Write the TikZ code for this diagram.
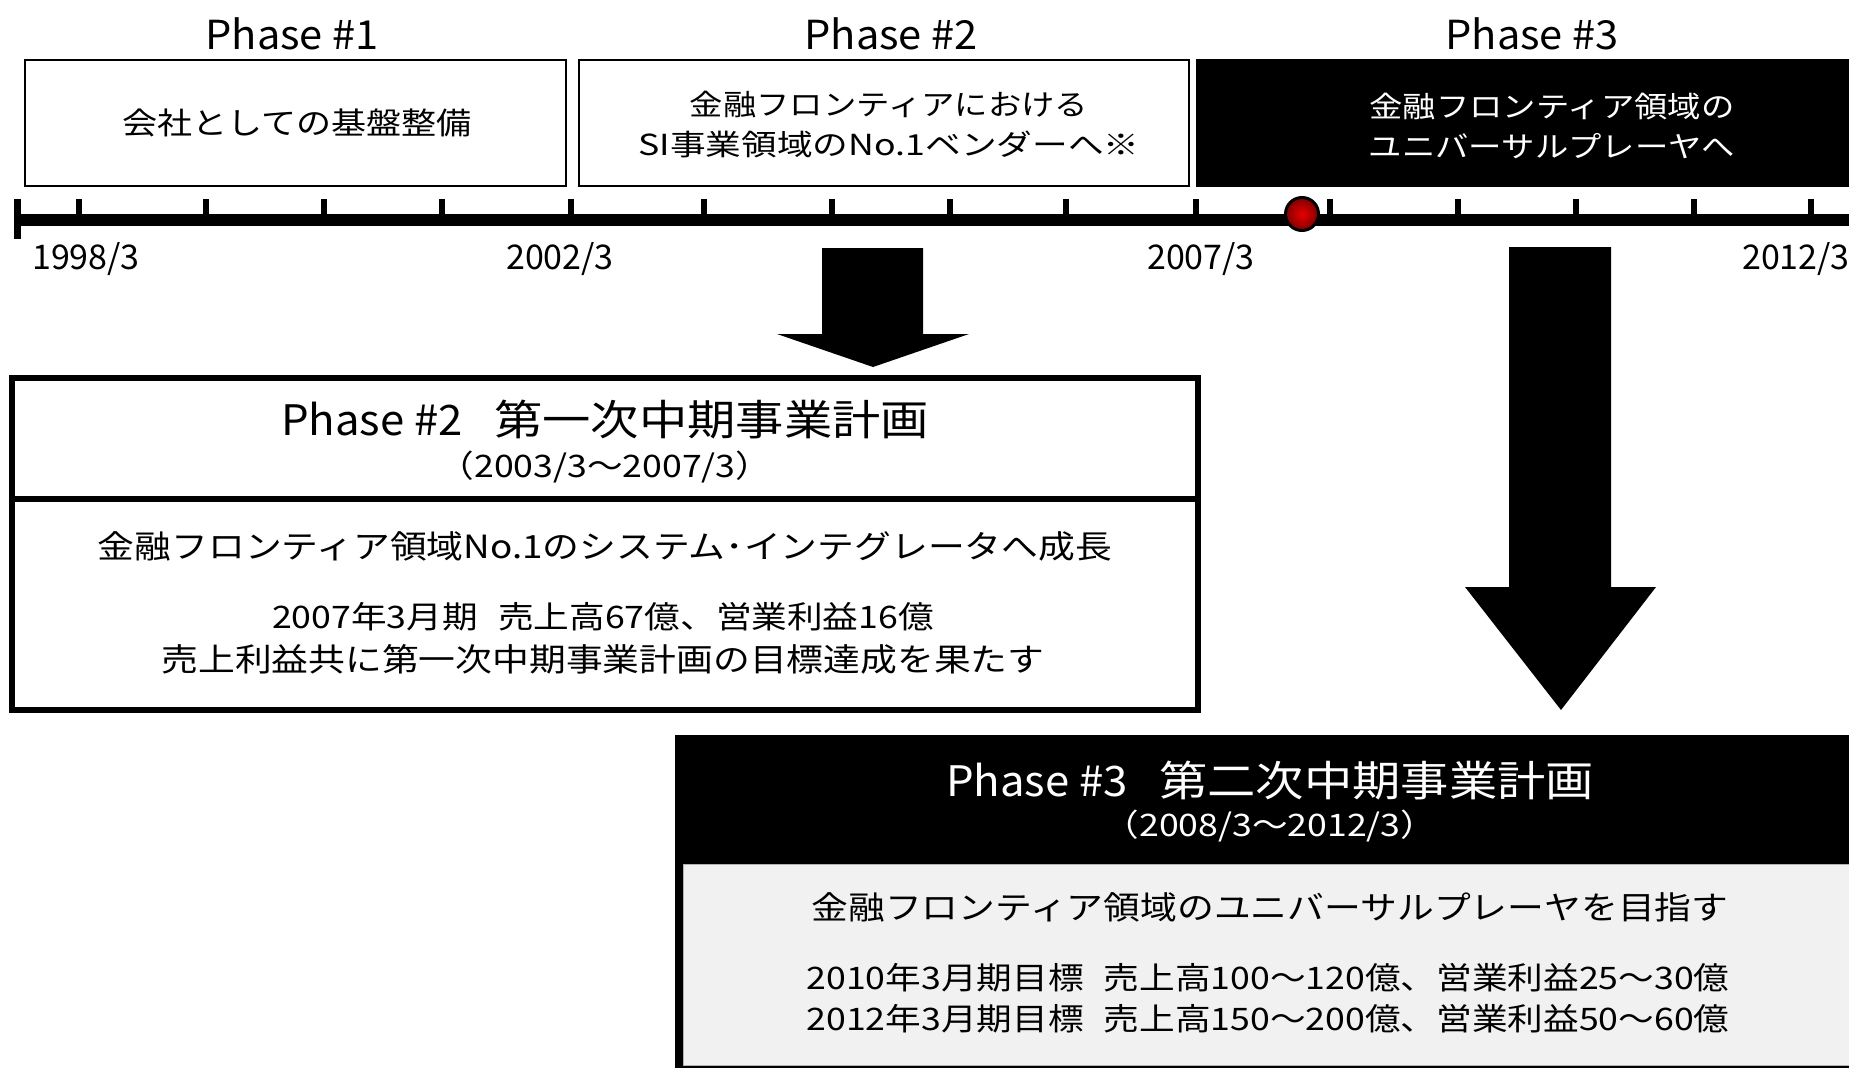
\documentclass[tikz,border=0pt]{standalone}
\usepackage{fontspec}
\newfontfamily\jp{Noto Sans CJK JP}[FakeStretch=1.15]
\newfontfamily\jpl{Noto Sans CJK JP}[FakeStretch=1.04]
\newfontfamily\jpn{Noto Sans CJK JP}
\newcommand\fsz[2]{\fontsize{#1}{#2}\selectfont}
\begin{document}
\begin{tikzpicture}[x=1pt,y=-1pt,
  phaselbl/.style={font=\jpl\fsz{40}{48}, inner sep=0pt},
  datelbl/.style={font=\jpn\fsz{34}{40}, inner sep=0pt},
  topbox/.style={draw=black, line width=2pt, fill=white, inner sep=0pt},
  boxtxt/.style={font=\jp\fsz{29}{40}, align=center, inner sep=0pt},
  bigtitle/.style={font=\jp\fsz{42}{50}, inner sep=0pt},
  subtitle/.style={font=\jp\fsz{31}{36}, inner sep=0pt},
  bodytxt/.style={font=\jp\fsz{32}{38}, inner sep=0pt},
  numtxt/.style={font=\jp\fsz{31}{38}, inner sep=0pt},
  tickmark/.style={fill=black},
  blockarrow/.style={fill=black},
]
\useasboundingbox (0,0) rectangle (1849,1068);
\fill[white] (0,0) rectangle (1849,1068);

% phase labels
\node[phaselbl] (p1) at (292,34) {Phase \#1};
\node[phaselbl] (p2) at (891,34) {Phase \#2};
\node[phaselbl] (p3) at (1532,34) {Phase \#3};

% top boxes
\node[topbox, minimum width=541pt, minimum height=126pt] (b1) at (295,122.5) {};
\node[boxtxt, font=\jp\fsz{30.5}{40}] (b1t) at (297,123) {会社としての基盤整備};
\node[topbox, minimum width=610pt, minimum height=126pt] (b2) at (883.5,122.5) {};
\node[boxtxt] (b2t) at (889,125) {金融フロンティアにおける\\\scalebox{1.07}[1]{SI事業領域のNo.1ベンダーへ※}};
\fill[black] (1196,59) rectangle (1849,187);
\node[boxtxt, text=white] (b3t) at (1552,126) {金融フロンティア領域の\\ユニバーサルプレーヤへ};

% timeline
\draw[line width=12pt] (14,220) -- (1849,220);
\fill (14,199) rectangle (21,239);
\foreach \x in {79,206,324,442,571,704,832,950,1066,1196,1330,1458,1576,1694,1811}
  \fill[tickmark] (\x-3,199) rectangle (\x+3,216);
\node[circle, draw=black, line width=3pt, minimum size=33pt, inner sep=0pt,
      inner color=red!90!black, outer color=red!50!black] (ball) at (1302,214) {};

% date labels
\node[datelbl] (d1) at (86,259) {1998/3};
\node[datelbl] (d2) at (560,259) {2002/3};
\node[datelbl] (d3) at (1201,259) {2007/3};
\node[datelbl, anchor=east] (d4) at (1850,259) {2012/3};

% block arrows
\fill[blockarrow] (822,248) -- (923,248) -- (923,334) -- (969,334) -- (873,367) -- (777,334) -- (822,334) -- cycle;
\fill[blockarrow] (1509,247) -- (1611,247) -- (1611,587) -- (1656,587) -- (1561,710) -- (1465,587) -- (1509,587) -- cycle;

% Phase 2 plan box
\draw[line width=6pt] (12,378) rectangle (1198,710);
\draw[line width=6pt] (12,499) -- (1198,499);
\node[bigtitle] (t2) at (605,420) {{\jpl Phase \#2}\hspace{0.75em}第一次中期事業計画};
\node[subtitle] (s2) at (605,467) {（2003/3～2007/3）};
\node[bodytxt] (a2) at (605,546) {金融フロンティア領域No.1のシステム･インテグレータへ成長};
\node[numtxt] (b2a) at (603,617) {2007年3月期\hspace{0.65em}売上高67億、営業利益16億};
\node[bodytxt] (c2) at (603,659) {売上利益共に第一次中期事業計画の目標達成を果たす};

% Phase 3 plan box
\fill[black] (675,735) rectangle (1849,1068);
\filldraw[fill=gray!11, draw=gray!60, line width=1pt] (683,864) rectangle (1855,1065);
\node[bigtitle, text=white] (t3) at (1270,781) {{\jpl Phase \#3}\hspace{0.75em}第二次中期事業計画};
\node[subtitle, text=white] (s3) at (1270,826) {（2008/3～2012/3）};
\node[bodytxt] (a3) at (1270,907) {金融フロンティア領域のユニバーサルプレーヤを目指す};
\node[numtxt] (b3a) at (1268,978) {2010年3月期目標\hspace{0.65em}売上高100～120億、営業利益25～30億};
\node[numtxt] (c3) at (1268,1019) {2012年3月期目標\hspace{0.65em}売上高150～200億、営業利益50～60億};
\end{tikzpicture}
\end{document}
